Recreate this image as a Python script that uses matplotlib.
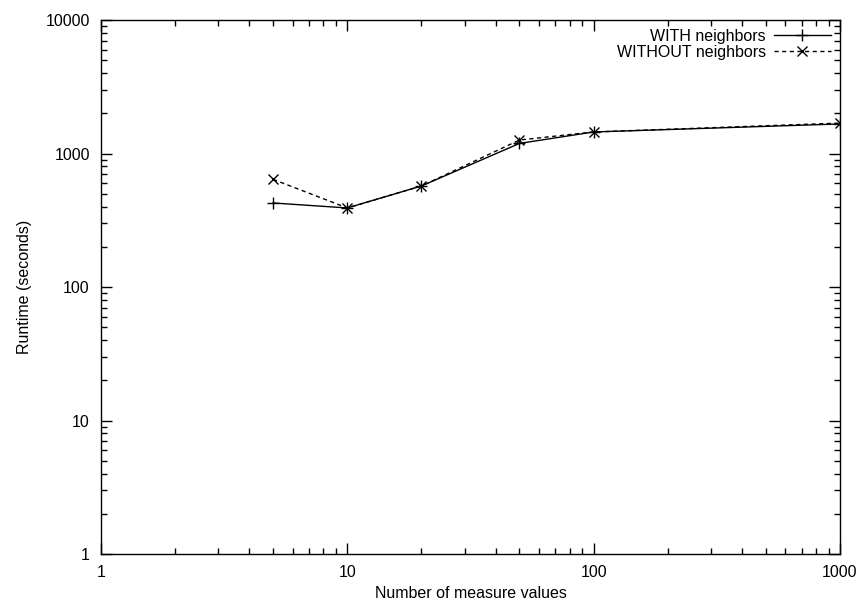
import matplotlib
matplotlib.use("Agg")
import matplotlib.pyplot as plt
from matplotlib.ticker import LogLocator, FixedLocator, FixedFormatter

plt.rcParams['font.family'] = ['Liberation Sans', 'DejaVu Sans']

# measure values and runtimes (seconds)
measures = [5, 10, 20, 50, 100, 1000]
with_nb = [426, 391, 571, 1190, 1450, 1665]
without_nb = [640, 391, 571, 1262, 1450, 1690]

fig = plt.figure(figsize=(8.63, 6.10), dpi=100)
ax = fig.add_axes([0.117, 0.0918, 0.8563, 0.8754])

ax.plot(measures, with_nb, color='black', lw=1, marker='+', ms=8, mew=1,
        label='WITH neighbors')
ax.plot(measures, without_nb, color='black', lw=1, ls=(0, (3, 2.5)), marker='x',
        ms=6.5, mew=1, label='WITHOUT neighbors')

ax.set_xscale('log')
ax.set_yscale('log')
ax.set_xlim(1, 1000)
ax.set_ylim(1, 10000)

xt = [1, 10, 100, 1000]
yt = [1, 10, 100, 1000, 10000]
ax.xaxis.set_major_locator(FixedLocator(xt))
ax.xaxis.set_major_formatter(FixedFormatter([str(v) for v in xt]))
ax.yaxis.set_major_locator(FixedLocator(yt))
ax.yaxis.set_major_formatter(FixedFormatter([str(v) for v in yt]))
ax.xaxis.set_minor_locator(LogLocator(base=10, subs=range(2, 10)))
ax.yaxis.set_minor_locator(LogLocator(base=10, subs=range(2, 10)))

ax.tick_params(which='both', direction='in', top=True, right=True,
               labelsize=11.5, width=1)
ax.tick_params(axis='x', pad=8)
ax.tick_params(axis='y', pad=8)
ax.tick_params(which='major', length=8)
ax.tick_params(which='minor', length=4)
for s in ax.spines.values():
    s.set_linewidth(1)

ax.set_xlabel('Number of measure values', fontsize=11.5, labelpad=4)
ax.set_ylabel('Runtime (seconds)', fontsize=11.5, labelpad=10)

ax.legend(loc='upper right', frameon=False, markerfirst=False, fontsize=11.5,
          handlelength=3.6, borderaxespad=0.3, borderpad=0.25, labelspacing=0.05,
          handletextpad=0.5)

fig.savefig('out.png', dpi=100)
